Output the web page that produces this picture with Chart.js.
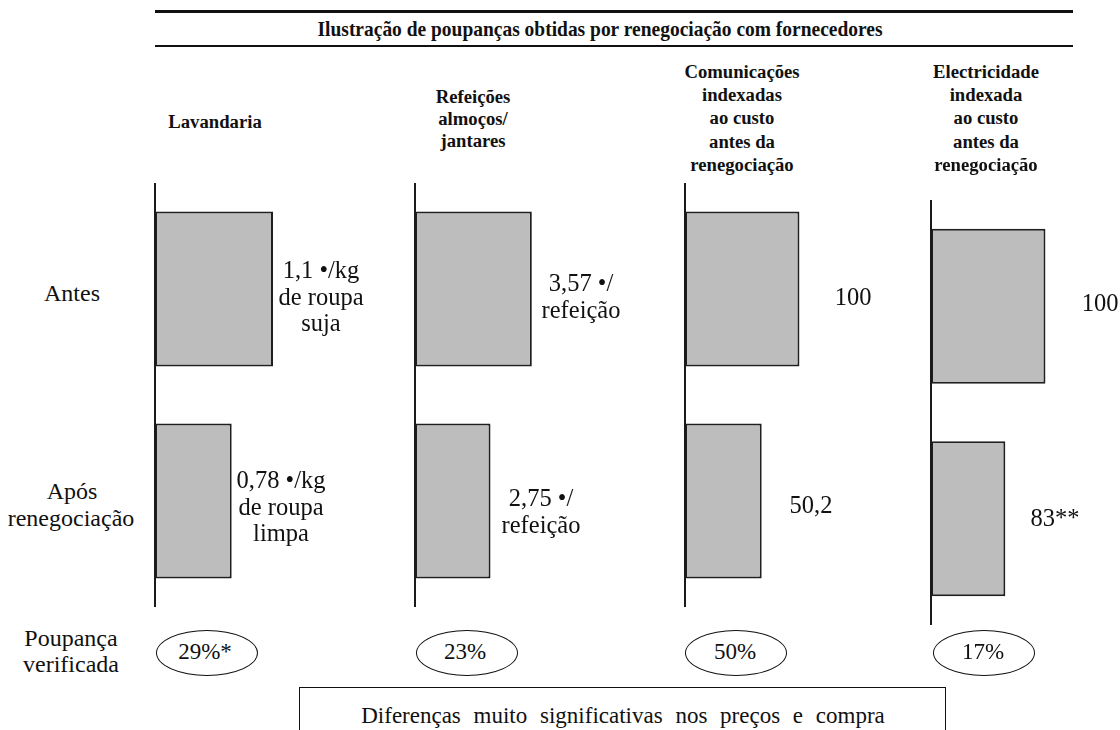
<!DOCTYPE html>
<html><head><meta charset="utf-8">
<script src="https://cdn.jsdelivr.net/npm/chart.js@4.4.1/dist/chart.umd.min.js"></script>
<style>
body{margin:0;width:1120px;height:730px;overflow:hidden;background:#fff;position:relative;font-family:"Liberation Serif","Times New Roman","DejaVu Serif",serif;color:#111}
.t{position:absolute;white-space:pre;transform:translate(-50%,-50%);line-height:1;font-size:24.5px;z-index:2}
.r{font-size:24px}
.b{font-weight:bold;font-size:18.7px}
.hl{position:absolute;left:155px;width:918px;background:#111}
.ell{position:absolute;border:1.3px solid #111;border-radius:50%;box-sizing:border-box}
.box{position:absolute;left:299px;top:687px;width:647px;height:70px;border:1.3px solid #111;box-sizing:border-box}
canvas{position:absolute;z-index:1}
</style></head>
<body>
<div class="hl" style="top:10px;height:3px"></div>
<div class="hl" style="top:45px;height:2px"></div>
<div class="box"></div>
<script>
// ---- data ----
const categories = ["Lavandaria", "Refeições", "Comunicações", "Electricidade"];
const rowLabels = ["Antes", "Após renegociação"];
// drawn bar lengths (relative, Antes = 100)
const barLenAntes = [100, 99, 97, 97];
const barLenApos  = [65, 64, 65, 63];
const headerLines = [
  ["Lavandaria"],
  ["Refeições", "almoços/", "jantares"],
  ["Comunicações", "indexadas", "ao custo", "antes da", "renegociação"],
  ["Electricidade", "indexada", "ao custo", "antes da", "renegociação"]
];
const valueAntes = [["1,1 •/kg", "de roupa", "suja"], ["3,57 •/", "refeição"], ["100"], ["100"]];
const valueApos  = [["0,78 •/kg", "de roupa", "limpa"], ["2,75 •/", "refeição"], ["50,2"], ["83**"]];
const savings = ["29%*", "23%", "50%", "17%"];
const title = "Ilustração de poupanças obtidas por renegociação com fornecedores";
const footer = "Diferenças muito significativas nos preços e compra";

// ---- layout ----
const panels = [
  {axisX:155, top:183, bottom:607, headCx:215, headY:[122], vA:{cx:321,y:270}, vP:{cx:281,y:480}, ell:207, sx:205},
  {axisX:415, top:183, bottom:607, headCx:473, headY:[97,119,141], vA:{cx:581,y:283}, vP:{cx:541,y:498}, ell:467, sx:465},
  {axisX:685, top:183, bottom:607, headCx:742, headY:[72,95,118,142,165], vA:{cx:853,y:297}, vP:{cx:811,y:505}, ell:736, sx:735},
  {axisX:931, top:200, bottom:625, headCx:986, headY:[72,95,118,142,165], vA:{cx:1100,y:303}, vP:{cx:1055,y:518}, ell:984, sx:983}
];
function txt(s, cx, cy, cls){
  const d=document.createElement('div'); d.className='t'+(cls?' '+cls:''); d.textContent=s;
  d.style.left=cx+'px'; d.style.top=cy+'px'; document.body.appendChild(d); return d;
}
// title, fitted to width
const tt = txt(title, 600, 29, 'b'); tt.style.fontSize='21px';
const tw = tt.getBoundingClientRect().width; tt.style.transform='translate(-50%,-50%) scaleX('+(565/tw)+')';

txt("Antes", 72, 293, 'r');
txt("Após", 72, 491, 'r'); txt("renegociação", 71, 518, 'r');
txt("Poupança", 71, 638, 'r'); txt("verificada", 71, 664, 'r');
const ft = txt(footer, 623, 715); ft.style.fontSize='23px'; ft.style.wordSpacing='7px'; ft.style.whiteSpace='nowrap';

const axisLine={id:'axisLine',afterDatasetsDraw(chart){
  const x=chart.scales.x.getPixelForValue(0), a=chart.chartArea, c=chart.ctx;
  c.save(); c.strokeStyle='#1a1a1a'; c.lineWidth=2; c.beginPath(); c.moveTo(x,a.top); c.lineTo(x,a.bottom); c.stroke(); c.restore();
}};

const PADL=10, CW=260, BAR100=118;
panels.forEach((p,i)=>{
  headerLines[i].forEach((s,k)=>txt(s, p.headCx, p.headY[k], 'b'));
  valueAntes[i].forEach((s,k)=>txt(s, p.vA.cx, p.vA.y + k*26.5));
  valueApos[i].forEach((s,k)=>txt(s, p.vP.cx, p.vP.y + k*26.5));
  const e=document.createElement('div'); e.className='ell';
  e.style.left=(p.ell-51)+'px'; e.style.top='630px'; e.style.width='102px'; e.style.height='46px';
  document.body.appendChild(e);
  const st = txt(savings[i], p.sx, 651); st.style.fontSize='23px';

  const cv=document.createElement('canvas');
  const H=p.bottom-p.top;
  cv.width=CW; cv.height=H; cv.style.left=(p.axisX-PADL)+'px'; cv.style.top=p.top+'px';
  cv.style.width=CW+'px'; cv.style.height=H+'px';
  document.body.appendChild(cv);
  new Chart(cv,{
    type:'bar',
    data:{labels:rowLabels, datasets:[{data:[barLenAntes[i], barLenApos[i]],
      backgroundColor:'#bdbdbd', borderColor:'#1f1f1f', borderWidth:2, borderSkipped:false,
      categoryPercentage:1, barPercentage:0.73}]},
    options:{indexAxis:'y', responsive:false, animation:false, devicePixelRatio:1,
      layout:{padding:{left:PADL,right:0,top:0,bottom:0}},
      plugins:{legend:{display:false}, tooltip:{enabled:false}},
      scales:{x:{display:false,min:0,max:100*(CW-PADL)/BAR100},
              y:{display:false}}},
    plugins:[axisLine]
  });
});
</script>
</body></html>
